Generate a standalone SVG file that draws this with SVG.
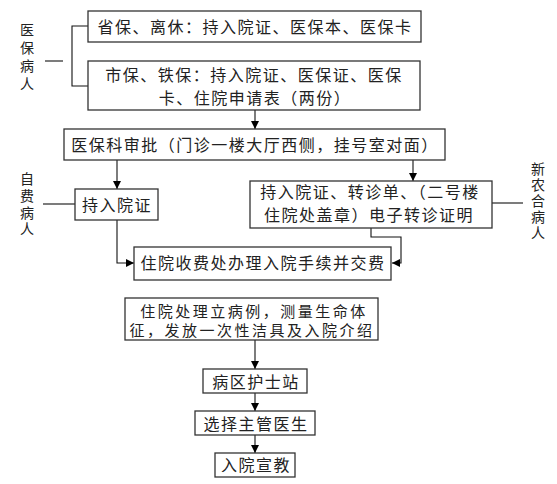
<svg xmlns="http://www.w3.org/2000/svg" width="557" height="484" viewBox="0 0 557 484">
<defs>
<style>
.box{fill:#fff;stroke:#333;stroke-width:1.3}
.t{font-family:"Noto Sans CJK SC","Noto Sans CJK JP",sans-serif;font-size:16px;fill:#222;text-anchor:middle;letter-spacing:1.5px}
.t15{font-family:"Noto Sans CJK SC","Noto Sans CJK JP",sans-serif;font-size:15px;fill:#222;text-anchor:middle;letter-spacing:2.5px}
.lbl{font-family:"Noto Sans CJK SC","Noto Sans CJK JP",sans-serif;font-size:14px;fill:#222;writing-mode:vertical-rl;text-anchor:start}
.c{fill:none;stroke:#111;stroke-width:1.1}
</style>
<marker id="ah" viewBox="0 0 10 10" refX="10" refY="5" markerWidth="8" markerHeight="8" markerUnits="userSpaceOnUse" orient="auto">
<path d="M0,0 L10,5 L0,10 Z" fill="#000"/>
</marker>
</defs>
<rect width="557" height="484" fill="#fff"/>
<g id="label-yibao">
<text class="lbl" x="27" y="23" letter-spacing="4">医保病人</text>
</g>
<g id="label-zifei">
<text class="lbl" x="27" y="172" letter-spacing="2.7">自费病人</text>
</g>
<g id="label-xinnonghe">
<text class="lbl" x="538" y="162" letter-spacing="2">新农合病人</text>
</g>
<g id="connectors">
<line class="c" x1="45" y1="61" x2="63" y2="61"/>
<polyline class="c" points="88,26 72,26 72,86 88,86"/>
<line class="c" x1="255" y1="110" x2="255" y2="129" marker-end="url(#ah)"/>
<line class="c" x1="117" y1="160" x2="117" y2="189" marker-end="url(#ah)"/>
<line class="c" x1="413" y1="160" x2="413" y2="181" marker-end="url(#ah)"/>
<line class="c" x1="43" y1="204" x2="75" y2="204"/>
<line class="c" x1="492" y1="203" x2="523" y2="203"/>
<polyline class="c" points="117,220 117,263 134,263" marker-end="url(#ah)"/>
<polyline class="c" points="371,228 371,237 401,237 401,263 392,263" marker-end="url(#ah)"/>
<line class="c" x1="255" y1="340" x2="255" y2="369" marker-end="url(#ah)"/>
<line class="c" x1="255" y1="393" x2="255" y2="411" marker-end="url(#ah)"/>
<line class="c" x1="255" y1="435" x2="255" y2="453" marker-end="url(#ah)"/>
</g>
<g id="n1">
<rect class="box" x="88" y="11" width="333" height="31"/>
<text class="t" x="255" y="33">省保、离休：持入院证、医保本、医保卡</text>
</g>
<g id="n2">
<rect class="box" x="88" y="61" width="332" height="49"/>
<text class="t" x="254" y="81">市保、铁保：持入院证、医保证、医保</text>
<text class="t" x="255" y="104">卡、住院申请表（两份）</text>
</g>
<g id="n3">
<rect class="box" x="64" y="129" width="381" height="31"/>
<text class="t" x="255" y="151">医保科审批（门诊一楼大厅西侧，挂号室对面）</text>
</g>
<g id="n4">
<rect class="box" x="75" y="189" width="83" height="31"/>
<text class="t" x="117" y="211">持入院证</text>
</g>
<g id="n5">
<rect class="box" x="250" y="181" width="242" height="47"/>
<text class="t" x="370" y="198">持入院证、转诊单、（二号楼</text>
<text class="t" x="369" y="221">住院处盖章）电子转诊证明</text>
</g>
<g id="n6">
<rect class="box" x="134" y="247" width="257" height="33"/>
<text class="t" x="263" y="269">住院收费处办理入院手续并交费</text>
</g>
<g id="n7">
<rect class="box" x="125" y="298" width="253" height="42"/>
<text class="t15" x="254" y="316.5">住院处理立病例，测量生命体</text>
<text class="t15" x="252" y="336">征，发放一次性洁具及入院介绍</text>
</g>
<g id="n8">
<rect class="box" x="203" y="369" width="104" height="24"/>
<text class="t" x="256" y="388">病区护士站</text>
</g>
<g id="n9">
<rect class="box" x="195" y="411" width="120" height="24"/>
<text class="t" x="256" y="430">选择主管医生</text>
</g>
<g id="n10">
<rect class="box" x="215" y="453" width="80" height="24"/>
<text class="t" x="256" y="471">入院宣教</text>
</g>
</svg>
